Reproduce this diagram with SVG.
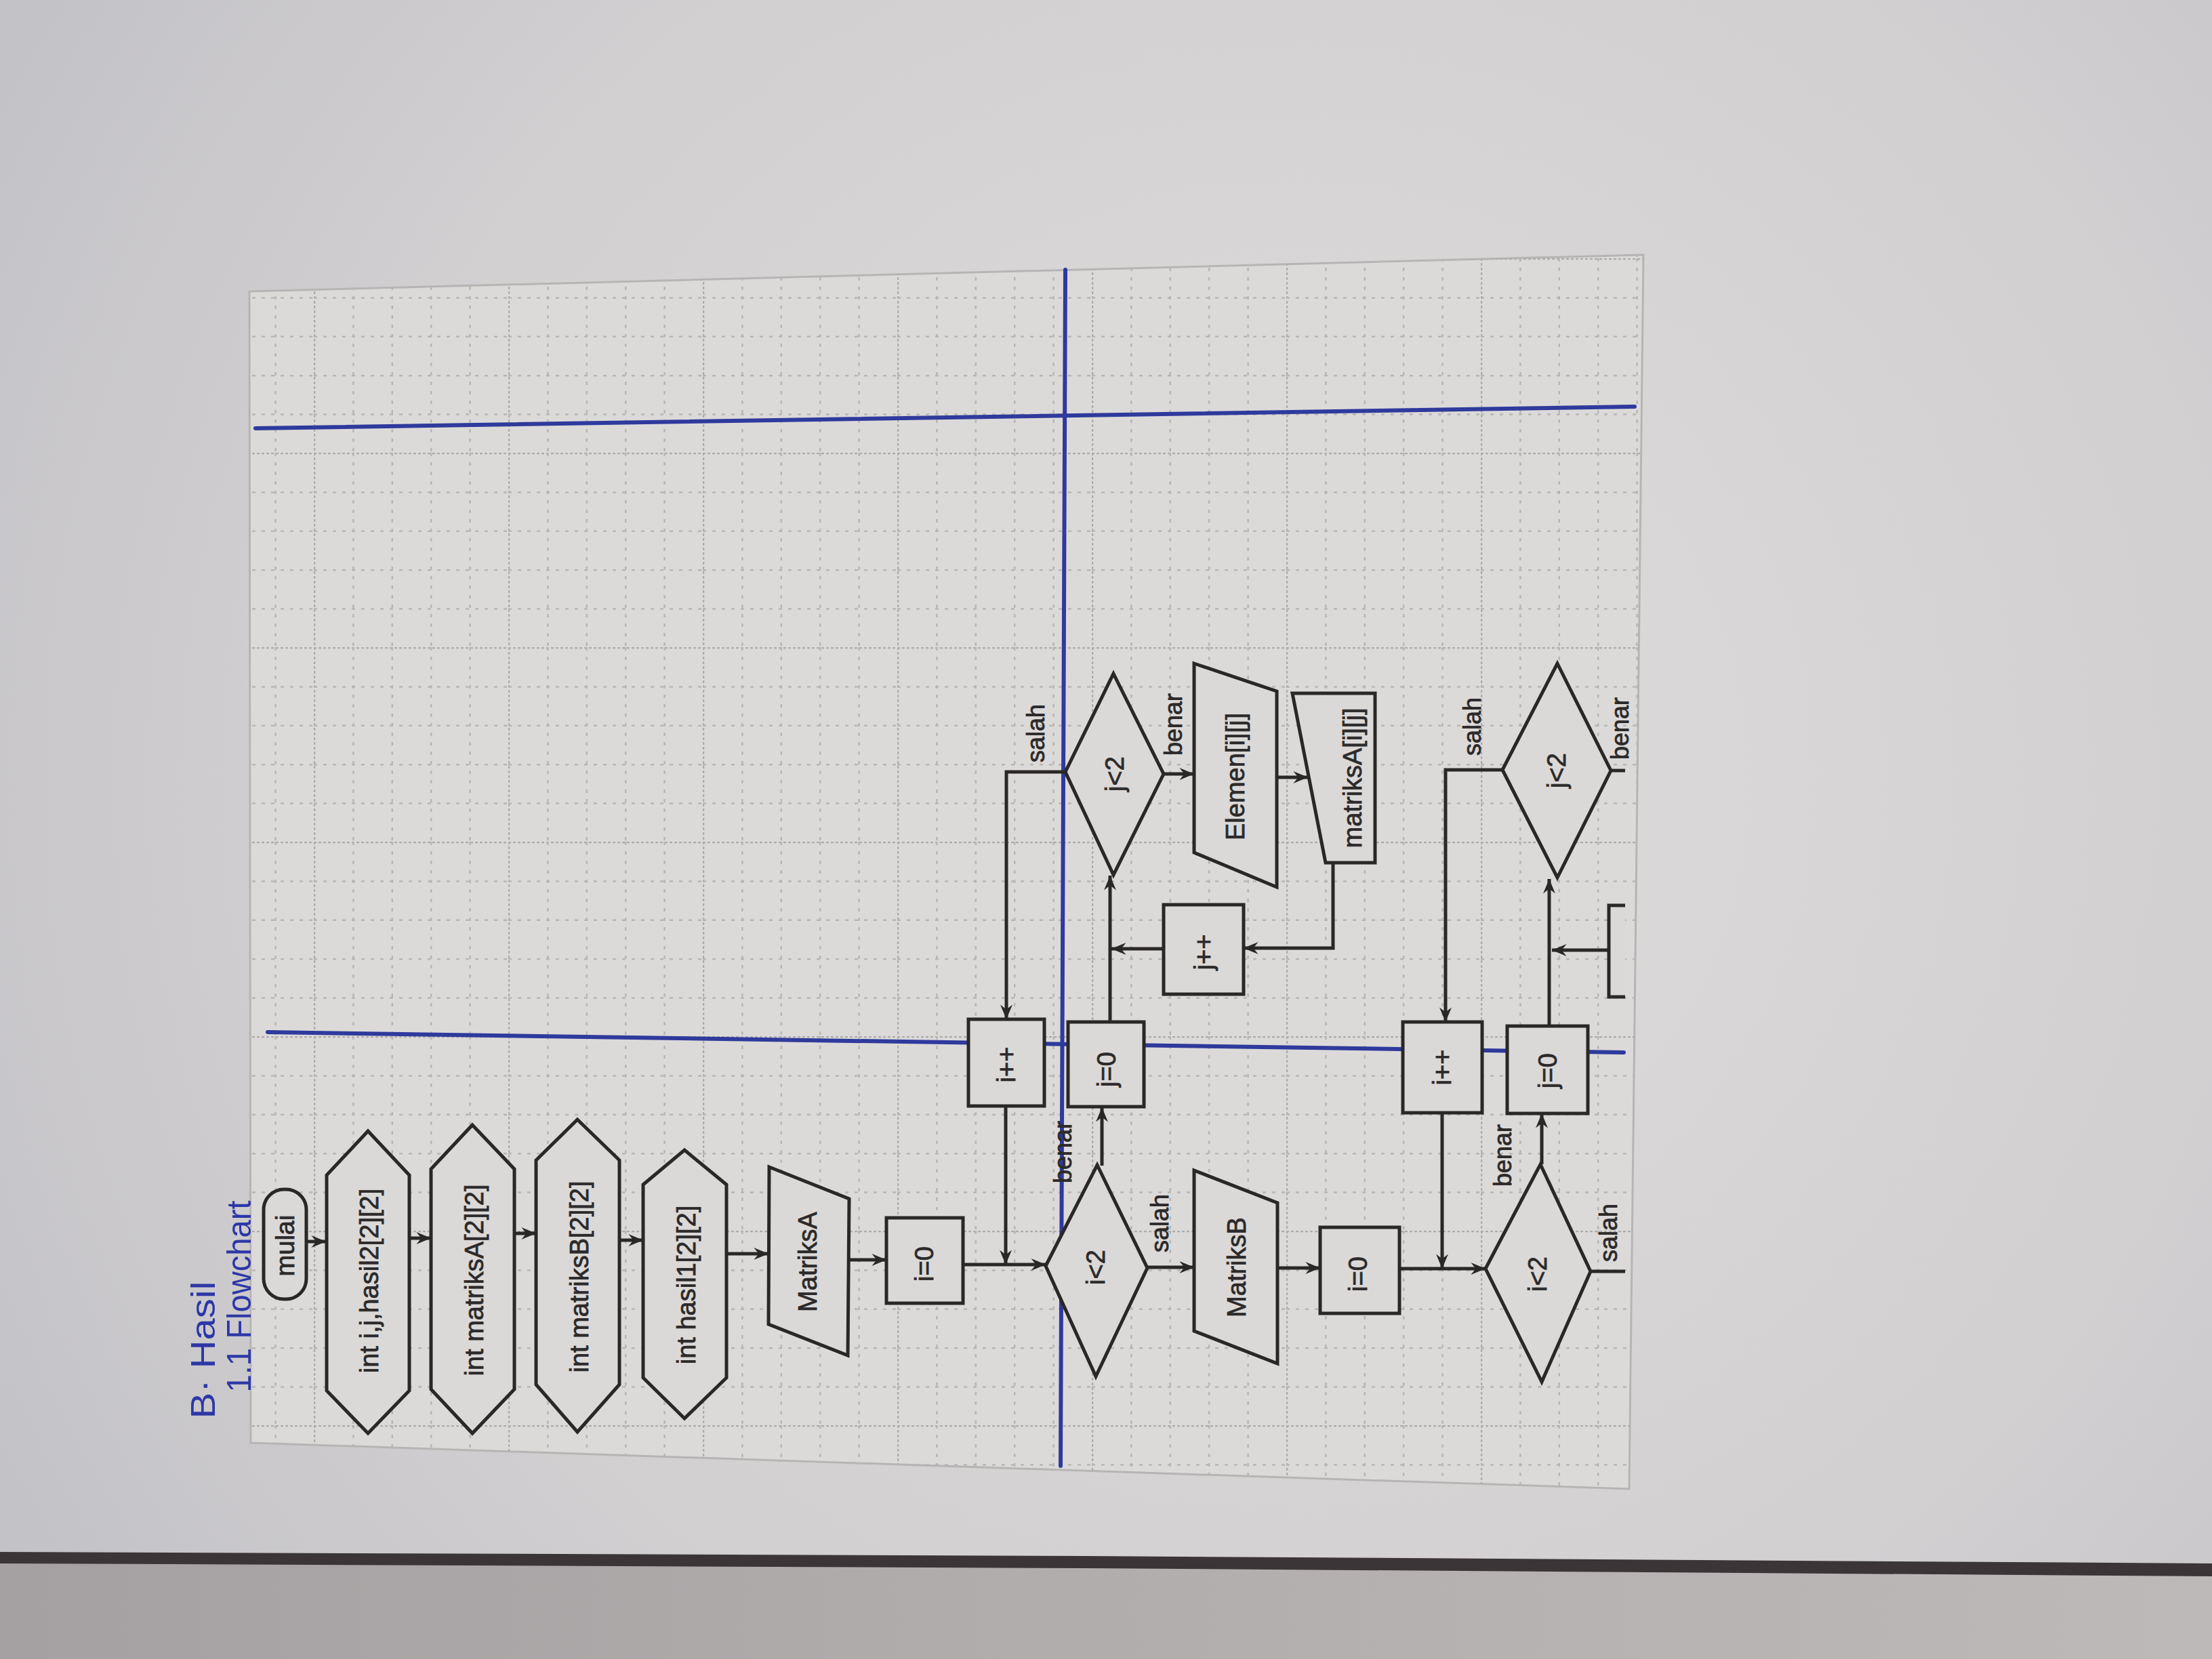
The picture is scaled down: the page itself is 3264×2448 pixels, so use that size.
<svg xmlns="http://www.w3.org/2000/svg" width="3264" height="2448" viewBox="0 0 3264 2448">
<defs>
  <radialGradient id="paper" cx="1900" cy="1150" r="2300" gradientUnits="userSpaceOnUse">
    <stop offset="0" stop-color="#dedcdb"/>
    <stop offset="0.6" stop-color="#d2d0d1"/>
    <stop offset="1" stop-color="#c1c0c5"/>
  </radialGradient>
  <linearGradient id="table" x1="0" y1="0" x2="1" y2="0">
    <stop offset="0" stop-color="#a5a1a2"/>
    <stop offset="0.6" stop-color="#b4b0b0"/>
    <stop offset="1" stop-color="#bdb9b9"/>
  </linearGradient>
  <pattern id="grid" patternUnits="userSpaceOnUse" x="463" y="668" width="287" height="287">
    <g fill="none" stroke-width="2.5">
      <path d="M1,0V287M0,1H287" stroke="#aeacab" stroke-dasharray="4 3"/>
      <path d="M58.4,0V287M115.8,0V287M173.2,0V287M230.6,0V287M0,58.4H287M0,115.8H287M0,173.2H287M0,230.6H287" stroke="#b8b6b5" stroke-dasharray="5 9"/>
    </g>
  </pattern>
  <marker id="arr" viewBox="0 0 12 10" refX="12" refY="5" markerWidth="22" markerHeight="18" markerUnits="userSpaceOnUse" orient="auto">
    <path d="M0,0 L12,5 L0,10 L4,5 z" fill="#2a2727"/>
  </marker>
  <style>
    .n{fill:#dbd9d8;stroke:#2a2727;stroke-width:5;stroke-linejoin:miter}
    .t{font-family:"Liberation Sans",Arial,sans-serif;font-size:38px;fill:#2c2a2a;text-anchor:middle;dominant-baseline:central;stroke:#2c2a2a;stroke-width:0.8}
    .l{font-size:36px}
    .c{fill:none;stroke:#2a2727;stroke-width:5}
    .a{marker-end:url(#arr)}
    .blue{fill:none;stroke:#2e3a9c;stroke-width:6;stroke-linecap:round}
    .hw{font-family:"Liberation Sans",Arial,sans-serif;font-size:50px;fill:#2d37a6;text-anchor:middle;dominant-baseline:central}
  </style>
</defs>

<g id="background">
  <rect width="3264" height="2448" fill="url(#paper)"/>
  <polygon points="0,2298 3264,2316 3264,2448 0,2448" fill="url(#table)"/>
  <polygon points="0,2290 1600,2296 3264,2307 3264,2326 1600,2314 0,2307" fill="#3b3537"/>
  <polygon points="368,430 2425,376 2404,2197 370,2129" fill="#dcdad9" stroke="#b7b5b4" stroke-width="3"/>
  <polygon points="368,430 2425,376 2404,2197 370,2129" fill="url(#grid)"/>
</g>

<g id="title">
  <text class="hw" transform="translate(300,1992) rotate(-90)" textLength="203" lengthAdjust="spacingAndGlyphs">B· Hasil</text>
  <text class="hw" transform="translate(353,1913) rotate(-90)" textLength="283" lengthAdjust="spacingAndGlyphs">1.1 Flowchart</text>
</g>

<g id="pen-lines">
  <line class="blue" x1="377" y1="632" x2="2412" y2="600"/>
  <line class="blue" x1="395" y1="1523" x2="2396" y2="1553"/>
  <line class="blue" x1="1572" y1="398" x2="1565" y2="2163"/>
</g>

<g id="connectors">
  <path class="c a" d="M452,1832H481"/>
  <path class="c a" d="M604,1827H636"/>
  <path class="c a" d="M759,1820H791"/>
  <path class="c a" d="M914,1830H949"/>
  <path class="c a" d="M1072,1850H1134"/>
  <path class="c a" d="M1253,1859H1308"/>
  <path class="c a" d="M1421,1866H1543"/>
  <path class="c a" d="M1484,1632V1866"/>
  <path class="c a" d="M1626,1720V1634"/>
  <path class="c a" d="M1693,1870H1762"/>
  <path class="c a" d="M1885,1871H1948"/>
  <path class="c a" d="M2065,1872H2192"/>
  <path class="c a" d="M2128,1642V1872"/>
  <path class="c a" d="M2275,1718V1643"/>
  <path class="c" d="M2347,1876H2398"/>
  <path class="c a" d="M2286,1514V1297"/>
  <path class="c a" d="M2374,1402H2290"/>
  <path class="c a" d="M2217,1136H2133V1508"/>
  <path class="c" d="M2377,1137H2398"/>
  <path class="c a" d="M1638,1508V1292"/>
  <path class="c a" d="M1717,1400H1640"/>
  <path class="c a" d="M1967,1273V1399H1835"/>
  <path class="c a" d="M1572,1139H1485V1504"/>
  <path class="c a" d="M1717,1142H1762"/>
  <path class="c a" d="M1884,1147H1930"/>
</g>

<g id="n-mulai">
  <rect class="n" x="389" y="1755" width="63" height="162" rx="30" ry="30"/>
  <text class="t" transform="translate(421,1838) rotate(-90)">mulai</text>
</g>
<g id="n-decl1">
  <polygon class="n" points="543,1669 604,1734 604,2052 543,2115 482,2052 482,1734"/>
  <text class="t" transform="translate(545,1890) rotate(-90)">int i,j,hasil2[2][2]</text>
</g>
<g id="n-decl2">
  <polygon class="n" points="697,1660 759,1725 759,2050 697,2115 636,2050 636,1725"/>
  <text class="t" transform="translate(700,1889) rotate(-90)">int matriksA[2][2]</text>
</g>
<g id="n-decl3">
  <polygon class="n" points="852,1652 914,1712 914,2043 852,2113 791,2043 791,1712"/>
  <text class="t" transform="translate(855,1884) rotate(-90)">int matriksB[2][2]</text>
</g>
<g id="n-decl4">
  <polygon class="n" points="1010,1697 1072,1748 1072,2033 1010,2093 949,2033 949,1748"/>
  <text class="t" transform="translate(1013,1896) rotate(-90)">int hasil1[2][2]</text>
</g>
<g id="n-inputA">
  <polygon class="n" points="1135,1722 1253,1769 1251,2000 1134,1954"/>
  <text class="t" transform="translate(1192,1862) rotate(-90)">MatriksA</text>
</g>
<g id="n-i0a">
  <rect class="n" x="1308" y="1797" width="113" height="126"/>
  <text class="t" transform="translate(1364,1865) rotate(-90)">i=0</text>
</g>
<g id="n-ilt2a">
  <polygon class="n" points="1543,1868 1619,1719 1693,1871 1617,2031"/>
  <text class="t" transform="translate(1617,1870) rotate(-90)">i&lt;2</text>
</g>
<g id="n-ippa">
  <rect class="n" x="1429" y="1504" width="112" height="128"/>
  <text class="t" transform="translate(1485,1571) rotate(-90)">i++</text>
</g>
<g id="n-j0a">
  <rect class="n" x="1576" y="1508" width="112" height="125"/>
  <text class="t" transform="translate(1633,1578) rotate(-90)">j=0</text>
</g>
<g id="n-jlt2a">
  <polygon class="n" points="1643,994 1717,1142 1643,1291 1572,1139"/>
  <text class="t" transform="translate(1645,1142) rotate(-90)">j&lt;2</text>
</g>
<g id="n-elemen">
  <polygon class="n" points="1762,979 1884,1020 1884,1309 1762,1258"/>
  <text class="t" transform="translate(1823,1146) rotate(-90)">Elemen[i][j]</text>
</g>
<g id="n-matriksAij">
  <polygon class="n" points="1907,1023 2029,1023 2029,1273 1956,1273"/>
  <text class="t" transform="translate(1996,1148) rotate(-90)">matriksA[i][j]</text>
</g>
<g id="n-jppa">
  <rect class="n" x="1717" y="1335" width="118" height="132"/>
  <text class="t" transform="translate(1776,1405) rotate(-90)">j++</text>
</g>
<g id="n-inputB">
  <polygon class="n" points="1762,1727 1885,1775 1885,2012 1762,1964"/>
  <text class="t" transform="translate(1825,1870) rotate(-90)">MatriksB</text>
</g>
<g id="n-i0b">
  <rect class="n" x="1948" y="1811" width="117" height="127"/>
  <text class="t" transform="translate(2004,1880) rotate(-90)">i=0</text>
</g>
<g id="n-ilt2b">
  <polygon class="n" points="2192,1872 2273,1718 2347,1876 2275,2039"/>
  <text class="t" transform="translate(2269,1880) rotate(-90)">i&lt;2</text>
</g>
<g id="n-ippb">
  <rect class="n" x="2070" y="1508" width="117" height="134"/>
  <text class="t" transform="translate(2128,1575) rotate(-90)">i++</text>
</g>
<g id="n-j0b">
  <rect class="n" x="2224" y="1514" width="119" height="129"/>
  <text class="t" transform="translate(2284,1580) rotate(-90)">j=0</text>
</g>
<g id="n-jlt2b">
  <polygon class="n" points="2298,979 2377,1137 2298,1295 2217,1136"/>
  <text class="t" transform="translate(2297,1137) rotate(-90)">j&lt;2</text>
</g>
<g id="n-jppb">
  <path class="n" d="M2398,1336H2374V1471H2398"/>
</g>

<g id="labels">
  <text class="t l" transform="translate(1568,1700) rotate(-90)">benar</text>
  <text class="t l" transform="translate(1711,1805) rotate(-90)">salah</text>
  <text class="t l" transform="translate(1528,1082) rotate(-90)">salah</text>
  <text class="t l" transform="translate(1731,1069) rotate(-90)">benar</text>
  <text class="t l" transform="translate(2217,1705) rotate(-90)">benar</text>
  <text class="t l" transform="translate(2373,1819) rotate(-90)">salah</text>
  <text class="t l" transform="translate(2172,1072) rotate(-90)">salah</text>
  <text class="t l" transform="translate(2390,1075) rotate(-90)">benar</text>
</g>
</svg>
